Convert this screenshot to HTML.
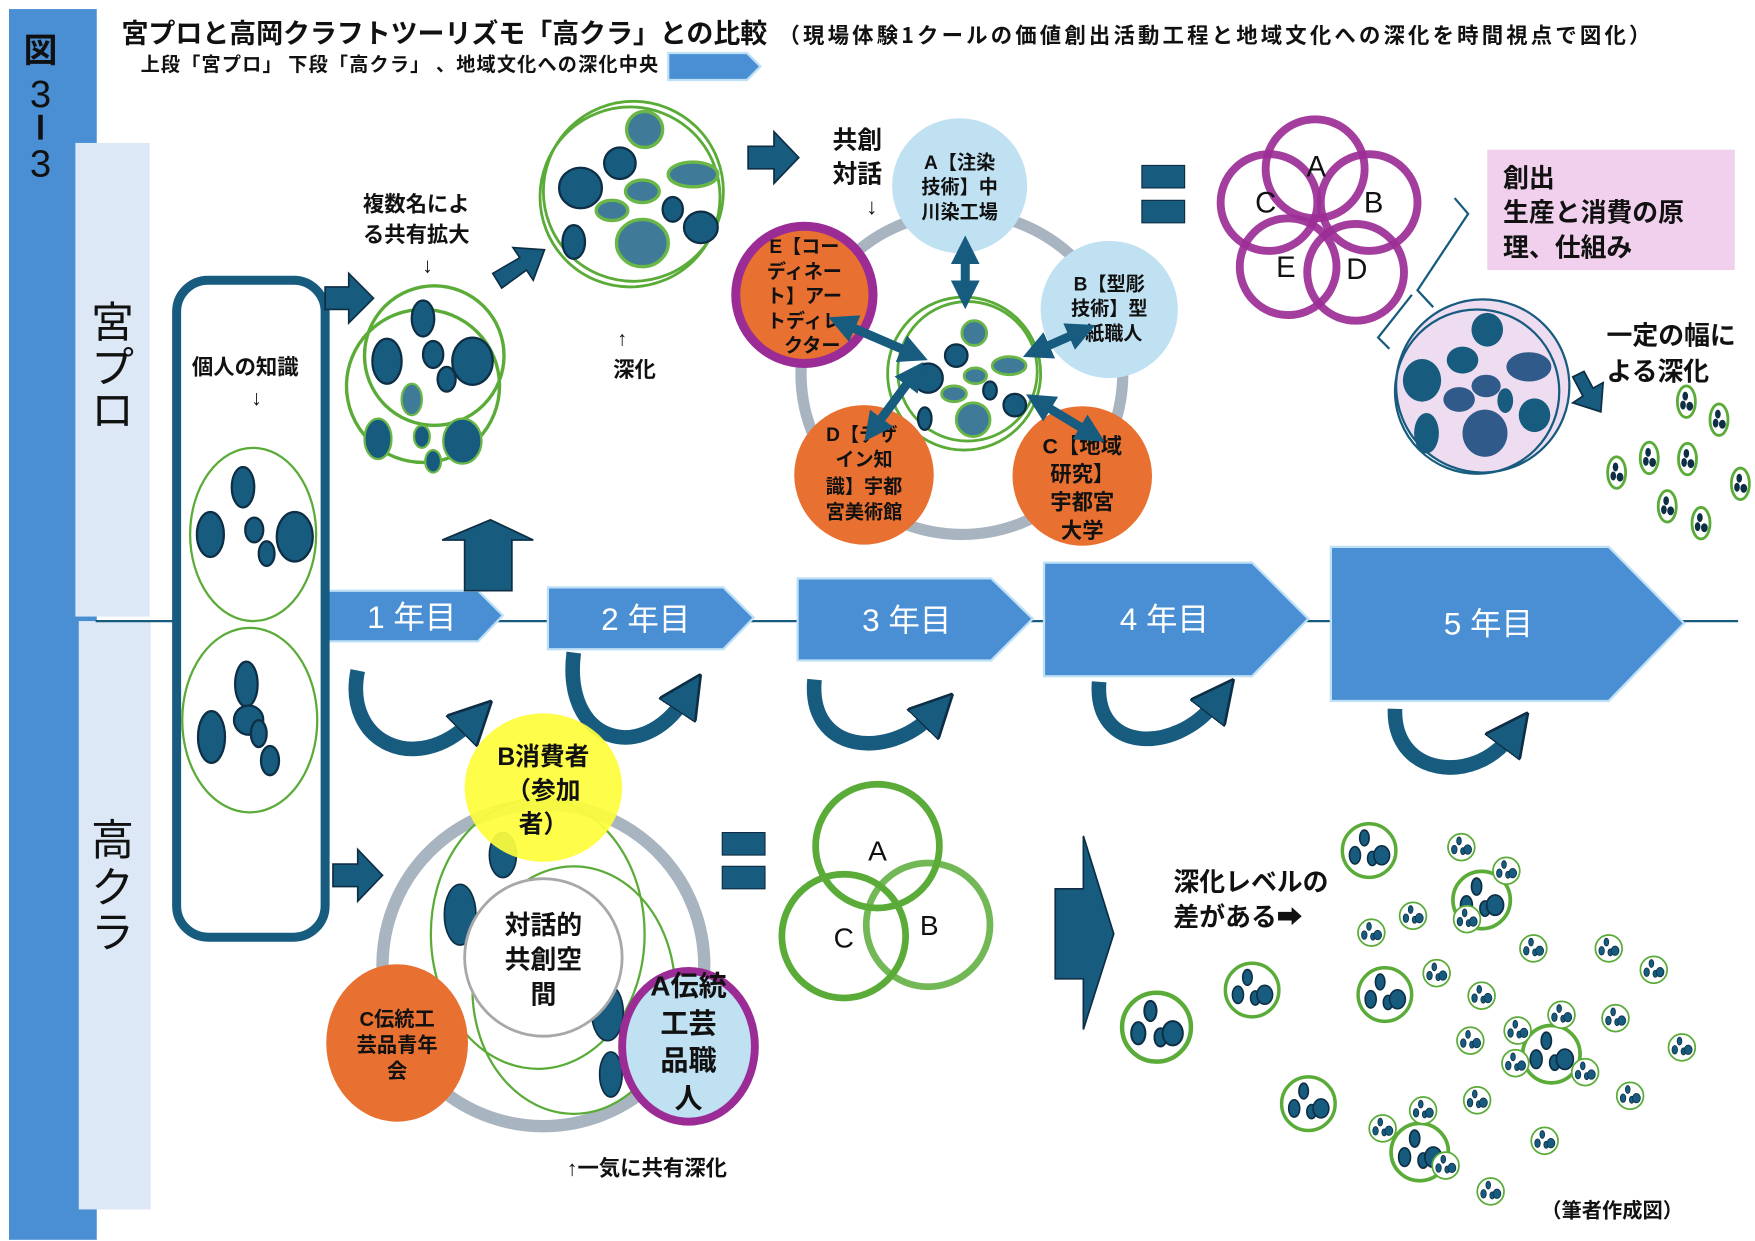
<!DOCTYPE html>
<html><head><meta charset="utf-8"><style>
html,body{margin:0;padding:0;background:#fff}
svg{display:block}
text{font-family:"Liberation Sans","Noto Sans CJK JP",sans-serif}
.j{font-family:"Noto Sans CJK JP","Liberation Sans",sans-serif}
.b{font-weight:bold}
</style></head><body>
<svg width="1755" height="1241" viewBox="0 0 1560 1103" xmlns="http://www.w3.org/2000/svg">
<defs>
<symbol id="cl" viewBox="-20 -20 40 40">
<circle r="17" fill="#fff" stroke="#5aab38" stroke-width="2.2"/>
<ellipse cx="-3" cy="-8" rx="3" ry="5" fill="#175b7f" stroke="#0d2e44" stroke-width="1"/>
<ellipse cx="-9" cy="3" rx="3.5" ry="5.5" fill="#175b7f" stroke="#0d2e44" stroke-width="1"/>
<ellipse cx="2" cy="5" rx="3" ry="4.5" fill="#175b7f" stroke="#0d2e44" stroke-width="1"/>
<ellipse cx="8" cy="3" rx="5" ry="6" fill="#175b7f" stroke="#0d2e44" stroke-width="1"/>
</symbol>
<symbol id="cs" viewBox="-10 -16 20 32">
<ellipse rx="8" ry="14" fill="#fff" stroke="#5aab38" stroke-width="2.5"/>
<ellipse cx="-1" cy="-5" rx="2.5" ry="4" fill="#0d2e44"/>
<ellipse cx="-3" cy="3" rx="2.5" ry="4" fill="#0d2e44"/>
<ellipse cx="3" cy="4" rx="3" ry="4" fill="#0d2e44"/>
</symbol>
<marker id="ah" viewBox="0 0 10 10" refX="5" refY="5" markerWidth="3.2" markerHeight="3.2" orient="auto-start-reverse"><path d="M0,0 L10,5 L0,10 z" fill="#175b7f"/></marker>
<marker id="ch" viewBox="0 0 10 10" refX="3" refY="5" markerWidth="3" markerHeight="3" orient="auto"><path d="M0,0 L10,5 L0,10 z" fill="#175b7f" stroke="#0d2e44" stroke-width="0.6"/></marker>
</defs>

<rect x="8" y="8" width="78" height="1094" fill="#4a8fd4"/>
<rect x="67" y="127" width="66" height="421" fill="#dce8f5"/>
<rect x="70" y="552" width="64" height="523" fill="#dce8f5"/>
<text x="36" y="55" font-size="30" text-anchor="middle" class="j b" fill="#111">図</text>
<text x="36" y="95" font-size="34" text-anchor="middle" fill="#111">3</text>
<rect x="34" y="102" width="4" height="22" fill="#111"/>
<text x="36" y="157" font-size="34" text-anchor="middle" fill="#111">3</text>
<text x="100" y="300" font-size="38" text-anchor="middle" class="j" fill="#111">宮</text>
<text x="100" y="340" font-size="38" text-anchor="middle" class="j" fill="#111">プ</text>
<text x="100" y="378" font-size="38" text-anchor="middle" class="j" fill="#111">ロ</text>
<text x="100" y="760" font-size="38" text-anchor="middle" class="j" fill="#111">高</text>
<text x="100" y="802" font-size="38" text-anchor="middle" class="j" fill="#111">ク</text>
<text x="100" y="842" font-size="38" text-anchor="middle" class="j" fill="#111">ラ</text>

<text x="108" y="38" font-size="24" class="j b" fill="#111" textLength="574">宮プロと高岡クラフトツーリズモ「高クラ」との比較</text>
<text x="692" y="38" font-size="19" class="j b" fill="#111" textLength="775">（現場体験1クールの価値創出活動工程と地域文化への深化を時間視点で図化）</text>
<text x="125" y="63" font-size="17" class="j b" fill="#111" textLength="460">上段「宮プロ」 下段「高クラ」 、地域文化への深化中央</text>
<path d="M594,47 L664,47 L676,59 L664,71 L594,71 z" fill="#4a8fd4" stroke="#bfe0f5" stroke-width="2"/>

<line x1="85" y1="552" x2="1545" y2="552" stroke="#175b7f" stroke-width="2"/>
<g fill="#4a8fd4" stroke="#bfe0f5" stroke-width="2">
<path d="M290,525 L425,525 L447,547 L425,570 L290,570 z"/>
<path d="M487,522 L643,522 L670,549 L643,577 L487,577 z"/>
<path d="M709,514 L881,514 L918,550 L881,587 L709,587 z"/>
<path d="M928,500 L1113,500 L1163,550 L1113,601 L928,601 z"/>
<path d="M1183,486 L1430,486 L1497,554 L1430,623 L1183,623 z"/>
</g>
<g fill="#fff" class="j" font-size="28" text-anchor="middle">
<text x="366" y="558">1 年目</text>
<text x="574" y="560">2 年目</text>
<text x="806" y="561">3 年目</text>
<text x="1035" y="560">4 年目</text>
<text x="1323" y="564">5 年目</text>
</g>

<g fill="none" stroke="#175b7f" stroke-width="13" marker-end="url(#ch)">
<path d="M318,596 C305,660 370,690 418,642"/>
<path d="M510,580 C500,660 570,680 608,622"/>
<path d="M724,604 C718,670 790,675 828,636"/>
<path d="M977,606 C972,670 1045,670 1080,625"/>
<path d="M1240,630 C1238,690 1310,698 1342,655"/>
</g>

<rect x="157" y="249" width="132" height="584" rx="28" fill="#fff" stroke="#175b7f" stroke-width="8"/>
<text x="218" y="333" font-size="19" text-anchor="middle" class="j b" fill="#111">個人の知識</text>
<text x="228" y="360" font-size="19" text-anchor="middle" fill="#111">↓</text>
<g stroke="#0d2e44" stroke-width="2" fill="#175b7f">
<ellipse cx="225" cy="475" rx="56" ry="77" fill="#fff" stroke="#5aab38" stroke-width="2"/>
<ellipse cx="216" cy="433" rx="10" ry="18"/><ellipse cx="187" cy="475" rx="12" ry="20"/>
<ellipse cx="226" cy="471" rx="8" ry="11"/><ellipse cx="237" cy="492" rx="7" ry="11"/>
<ellipse cx="262" cy="477" rx="16" ry="22"/>
<ellipse cx="222" cy="640" rx="60" ry="82" fill="#fff" stroke="#5aab38" stroke-width="2"/>
<ellipse cx="219" cy="608" rx="10" ry="20"/><ellipse cx="188" cy="655" rx="12" ry="23"/>
<ellipse cx="221" cy="640" rx="13" ry="13"/><ellipse cx="230" cy="652" rx="7" ry="12"/><ellipse cx="240" cy="676" rx="8" ry="13"/>
</g>

<g fill="#175b7f" stroke="#0d2e44" stroke-width="1.5">
<path d="M289,255 L310,255 L310,243 L332,265 L310,287 L310,275 L289,275 z"/>
<path d="M296,768 L318,768 L318,755 L340,778 L318,801 L318,788 L296,788 z"/>
<path d="M665,130 L688,130 L688,117 L710,140 L688,163 L688,150 L665,150 z"/>
<path d="M438,243 L462,229 L456,220 L484,222 L474,249 L468,240 L446,256 z"/>
<path d="M413,525 L413,480 L393,480 L436,462 L474,480 L455,480 L455,525 z"/>
<path d="M938,790 L963,790 L963,743 L990,830 L963,915 L963,870 L938,870 z"/>
<path d="M1398,335 L1408,330 L1416,345 L1425,340 L1423,366 L1398,358 L1407,352 z"/>
</g>

<text x="370" y="188" font-size="19" text-anchor="middle" class="j b" fill="#111">複数名によ</text>
<text x="370" y="215" font-size="19" text-anchor="middle" class="j b" fill="#111">る共有拡大</text>
<text x="380" y="242" font-size="19" text-anchor="middle" fill="#111">↓</text>
<circle cx="376" cy="343" r="68" fill="none" stroke="#5aab38" stroke-width="3"/>
<circle cx="386" cy="316" r="62" fill="none" stroke="#5aab38" stroke-width="3"/>
<g stroke="#0d2e44" stroke-width="2" fill="#175b7f">
<ellipse cx="376" cy="283" rx="10" ry="16"/><ellipse cx="344" cy="321" rx="13" ry="20"/>
<ellipse cx="385" cy="315" rx="9" ry="12"/><ellipse cx="397" cy="337" rx="8" ry="11"/>
<ellipse cx="420" cy="321" rx="18" ry="21"/>
<ellipse cx="366" cy="355" rx="9" ry="14" fill="#3f7b98" stroke="#6ab646"/>
<ellipse cx="336" cy="390" rx="12" ry="18" stroke="#6ab646"/><ellipse cx="375" cy="388" rx="7" ry="10" stroke="#6ab646"/>
<ellipse cx="385" cy="410" rx="7" ry="10" stroke="#6ab646"/><ellipse cx="411" cy="392" rx="17" ry="20" stroke="#6ab646"/>
</g>

<circle cx="560" cy="175" r="80" fill="none" stroke="#5aab38" stroke-width="2.5"/>
<circle cx="563" cy="170" r="80" fill="none" stroke="#5aab38" stroke-width="2.5"/>
<g stroke="#0d2e44" stroke-width="2" fill="#175b7f">
<ellipse cx="573" cy="115" rx="16" ry="16" fill="#3f7b98" stroke="#6ab646" stroke-width="3"/>
<ellipse cx="551" cy="145" rx="14" ry="14"/><ellipse cx="516" cy="167" rx="19" ry="18"/>
<ellipse cx="616" cy="155" rx="22" ry="11" fill="#3f7b98" stroke="#6ab646" stroke-width="3"/>
<ellipse cx="571" cy="170" rx="15" ry="10" fill="#3f7b98" stroke="#6ab646" stroke-width="3"/>
<ellipse cx="544" cy="187" rx="14" ry="9" fill="#3f7b98" stroke="#6ab646" stroke-width="3"/>
<ellipse cx="598" cy="186" rx="9" ry="11"/><ellipse cx="623" cy="202" rx="15" ry="14"/>
<ellipse cx="510" cy="215" rx="10" ry="15"/>
<ellipse cx="571" cy="216" rx="23" ry="21" fill="#3f7b98" stroke="#6ab646" stroke-width="3"/>
</g>
<text x="553" y="307" font-size="18" text-anchor="middle" fill="#111">↑</text>
<text x="564" y="335" font-size="19" text-anchor="middle" class="j b" fill="#111">深化</text>

<text x="740" y="132" font-size="22" class="j b" fill="#111">共創</text>
<text x="740" y="162" font-size="22" class="j b" fill="#111">対話</text>
<text x="770" y="190" font-size="20" fill="#111">↓</text>
<circle cx="855" cy="332" r="143" fill="none" stroke="#a8b4c0" stroke-width="10"/>
<circle cx="857" cy="332" r="68" fill="#fff" stroke="#5aab38" stroke-width="2.5"/>
<circle cx="860" cy="330" r="62" fill="none" stroke="#5aab38" stroke-width="2.5"/>
<g stroke="#0d2e44" stroke-width="2" fill="#175b7f">
<ellipse cx="866" cy="296" rx="11" ry="11" fill="#3f7b98" stroke="#6ab646" stroke-width="2.5"/>
<ellipse cx="850" cy="316" rx="10" ry="10"/><ellipse cx="825" cy="336" rx="13" ry="13"/>
<ellipse cx="897" cy="325" rx="15" ry="8" fill="#3f7b98" stroke="#6ab646" stroke-width="2.5"/>
<ellipse cx="867" cy="334" rx="10" ry="7" fill="#3f7b98" stroke="#6ab646" stroke-width="2.5"/>
<ellipse cx="848" cy="350" rx="11" ry="7" fill="#3f7b98" stroke="#6ab646" stroke-width="2.5"/>
<ellipse cx="880" cy="347" rx="6" ry="8"/><ellipse cx="902" cy="360" rx="10" ry="10"/>
<ellipse cx="822" cy="372" rx="6" ry="10"/>
<ellipse cx="865" cy="373" rx="15" ry="15" fill="#3f7b98" stroke="#6ab646" stroke-width="2.5"/>
</g>
<circle cx="853" cy="165" r="60" fill="#bfe1f2"/>
<circle cx="986" cy="275" r="61" fill="#bfe1f2"/>
<circle cx="715" cy="262" r="61" fill="#e87030" stroke="#9b2c96" stroke-width="8"/>
<circle cx="962" cy="423" r="62" fill="#e87030"/>
<circle cx="768" cy="422" r="62" fill="#e87030"/>
<g class="j b" font-size="17" text-anchor="middle" fill="#111">
<text x="853" y="150">A【注染</text><text x="853" y="172">技術】中</text><text x="853" y="194">川染工場</text>
<text x="986" y="258">B【型彫</text><text x="986" y="280">技術】型</text><text x="990" y="302">紙職人</text>
<text x="715" y="225">E【コー</text><text x="715" y="247">ディネー</text><text x="715" y="269">ト】アー</text><text x="715" y="291">トディレ</text><text x="722" y="313">クター</text>
<text x="766" y="392">D【デザ</text><text x="768" y="414">イン知</text><text x="768" y="438">識】宇都</text><text x="768" y="461">宮美術館</text>
<text x="962" y="403" font-size="19">C【地域</text><text x="962" y="428" font-size="19">研究】</text><text x="962" y="453" font-size="19">宇都宮</text><text x="962" y="478" font-size="19">大学</text>
</g>
<g stroke="#175b7f" stroke-width="8" fill="none" marker-start="url(#ah)" marker-end="url(#ah)">
<line x1="858" y1="222" x2="858" y2="262"/>
<line x1="748" y1="287" x2="813" y2="315"/>
<line x1="962" y1="294" x2="921" y2="312"/>
<line x1="923" y1="357" x2="971" y2="386"/>
<line x1="813" y1="332" x2="776" y2="382"/>
</g>

<g fill="#175b7f" stroke="#0d2e44" stroke-width="1">
<rect x="1015" y="147" width="38" height="20"/><rect x="1015" y="178" width="38" height="20"/>
<rect x="642" y="740" width="38" height="20"/><rect x="642" y="770" width="38" height="20"/>
</g>

<g fill="none" stroke="#9b2c96" stroke-width="7" stroke-opacity="0.92">
<circle cx="1169" cy="150" r="44"/><circle cx="1128" cy="180" r="43"/><circle cx="1217" cy="180" r="43"/>
<circle cx="1145" cy="237" r="43"/><circle cx="1205" cy="242" r="43"/>
</g>
<g font-size="26" text-anchor="middle" fill="#111">
<text x="1170" y="157">A</text><text x="1125" y="189">C</text><text x="1221" y="189">B</text><text x="1143" y="246">E</text><text x="1206" y="248">D</text>
</g>
<rect x="1322" y="133" width="220" height="107" fill="#f0d0ec"/>
<g class="j b" font-size="23" fill="#111">
<text x="1336" y="166">創出</text><text x="1336" y="197">生産と消費の原</text><text x="1336" y="228">理、仕組み</text>
</g>
<path d="M1293,176 L1305,190 L1260,258 L1274,273" fill="none" stroke="#175b7f" stroke-width="2"/>
<path d="M1255,262 L1225,300 L1235,310" fill="none" stroke="#175b7f" stroke-width="2"/>
<circle cx="1318" cy="343" r="77" fill="#eedcf0" stroke="#175b7f" stroke-width="2"/>
<circle cx="1313" cy="348" r="73" fill="none" stroke="#175b7f" stroke-width="2"/>
<g fill="#175b7f">
<ellipse cx="1322" cy="293" rx="14" ry="15"/><ellipse cx="1300" cy="320" rx="14" ry="12"/>
<ellipse cx="1264" cy="338" rx="17" ry="19"/><ellipse cx="1359" cy="326" rx="20" ry="13" fill="#2f5a8a"/>
<ellipse cx="1321" cy="343" rx="13" ry="10" fill="#2f5a8a"/><ellipse cx="1297" cy="355" rx="14" ry="11" fill="#2f5a8a"/>
<ellipse cx="1338" cy="356" rx="7" ry="11"/><ellipse cx="1364" cy="369" rx="14" ry="15"/>
<ellipse cx="1268" cy="385" rx="11" ry="18"/><ellipse cx="1320" cy="385" rx="20" ry="21" fill="#2f5a8a"/>
</g>
<text x="1428" y="306" font-size="23" class="j b" fill="#111">一定の幅に</text>
<text x="1428" y="338" font-size="23" class="j b" fill="#111">よる深化</text>
<g>
<use href="#cs" x="1489" y="341" width="20" height="32"/>
<use href="#cs" x="1518" y="357" width="20" height="32"/>
<use href="#cs" x="1427" y="404" width="20" height="32"/>
<use href="#cs" x="1456" y="391" width="20" height="32"/>
<use href="#cs" x="1490" y="392" width="20" height="32"/>
<use href="#cs" x="1537" y="414" width="20" height="32"/>
<use href="#cs" x="1472" y="434" width="20" height="32"/>
<use href="#cs" x="1502" y="449" width="20" height="32"/>
</g>

<circle cx="483" cy="858" r="143" fill="none" stroke="#a8b4c0" stroke-width="11"/>
<ellipse cx="478" cy="830" rx="95" ry="120" fill="none" stroke="#5aab38" stroke-width="2"/>
<ellipse cx="510" cy="880" rx="90" ry="110" fill="none" stroke="#5aab38" stroke-width="2"/>
<g fill="#175b7f" stroke="#0d2e44" stroke-width="1.5">
<ellipse cx="447" cy="760" rx="12" ry="20"/><ellipse cx="409" cy="813" rx="14" ry="27"/>
<ellipse cx="540" cy="900" rx="14" ry="25"/><ellipse cx="543" cy="955" rx="10" ry="20"/>
</g>
<ellipse cx="483" cy="700" rx="70" ry="66" fill="#fdfd3c" fill-opacity="0.93"/>
<circle cx="483" cy="851" r="70" fill="#fff" stroke="#a8a8a8" stroke-width="2.5"/>
<ellipse cx="353" cy="927" rx="63" ry="70" fill="#e87030"/>
<ellipse cx="612" cy="930" rx="59" ry="67" fill="#bfe1f2" stroke="#9b2c96" stroke-width="7"/>
<g class="j b" text-anchor="middle" fill="#111">
<text x="483" y="680" font-size="22">B消費者</text><text x="483" y="710" font-size="22">（参加</text><text x="483" y="740" font-size="22">者）</text>
<text x="483" y="830" font-size="23">対話的</text><text x="483" y="861" font-size="23">共創空</text><text x="483" y="892" font-size="23">間</text>
<text x="353" y="912" font-size="18">C伝統工</text><text x="353" y="935" font-size="18">芸品青年</text><text x="353" y="958" font-size="18">会</text>
<text x="612" y="885" font-size="25">A伝統</text><text x="612" y="918" font-size="25">工芸</text><text x="612" y="951" font-size="25">品職</text><text x="612" y="985" font-size="25">人</text>
<text x="575" y="1045" font-size="19">↑一気に共有深化</text>
</g>

<g fill="none" stroke-width="6">
<circle cx="780" cy="752" r="55" stroke="#5aab38"/>
<circle cx="750" cy="832" r="55" stroke="#5aab38"/>
<circle cx="825" cy="822" r="55" stroke="#5aab38" stroke-opacity="0.85"/>
</g>
<g font-size="25" text-anchor="middle" fill="#111">
<text x="780" y="765">A</text><text x="750" y="842">C</text><text x="826" y="831">B</text>
</g>

<text x="1043" y="792" font-size="23" class="j b" fill="#111">深化レベルの</text>
<text x="1043" y="823" font-size="23" class="j b" fill="#111">差がある➡</text>
<text x="1370" y="1082" font-size="18" class="j b" fill="#111">（筆者作成図）</text>

<g>
<use href="#cl" x="992" y="877" width="72" height="72"/>
<use href="#cl" x="1085" y="852" width="56" height="56"/>
<use href="#cl" x="1135" y="953" width="56" height="56"/>
<use href="#cl" x="1189" y="728" width="56" height="56"/>
<use href="#cl" x="1203" y="856" width="56" height="56"/>
<use href="#cl" x="1287" y="770" width="60" height="60"/>
<use href="#cl" x="1232" y="994" width="60" height="60"/>
<use href="#cl" x="1349" y="907" width="60" height="60"/>
<use href="#cl" x="1285" y="739" width="28" height="28"/>
<use href="#cl" x="1325" y="760" width="28" height="28"/>
<use href="#cl" x="1290" y="803" width="28" height="28"/>
<use href="#cl" x="1205" y="815" width="28" height="28"/>
<use href="#cl" x="1242" y="800" width="28" height="28"/>
<use href="#cl" x="1263" y="851" width="28" height="28"/>
<use href="#cl" x="1303" y="871" width="28" height="28"/>
<use href="#cl" x="1293" y="911" width="28" height="28"/>
<use href="#cl" x="1335" y="902" width="28" height="28"/>
<use href="#cl" x="1333" y="931" width="28" height="28"/>
<use href="#cl" x="1374" y="888" width="28" height="28"/>
<use href="#cl" x="1395" y="939" width="28" height="28"/>
<use href="#cl" x="1422" y="891" width="28" height="28"/>
<use href="#cl" x="1416" y="829" width="28" height="28"/>
<use href="#cl" x="1349" y="829" width="28" height="28"/>
<use href="#cl" x="1456" y="848" width="28" height="28"/>
<use href="#cl" x="1481" y="917" width="28" height="28"/>
<use href="#cl" x="1435" y="960" width="28" height="28"/>
<use href="#cl" x="1359" y="1000" width="28" height="28"/>
<use href="#cl" x="1311" y="1045" width="28" height="28"/>
<use href="#cl" x="1299" y="964" width="28" height="28"/>
<use href="#cl" x="1215" y="989" width="28" height="28"/>
<use href="#cl" x="1271" y="1022" width="28" height="28"/>
<use href="#cl" x="1251" y="973" width="28" height="28"/>
</g>
</svg>
</body></html>
